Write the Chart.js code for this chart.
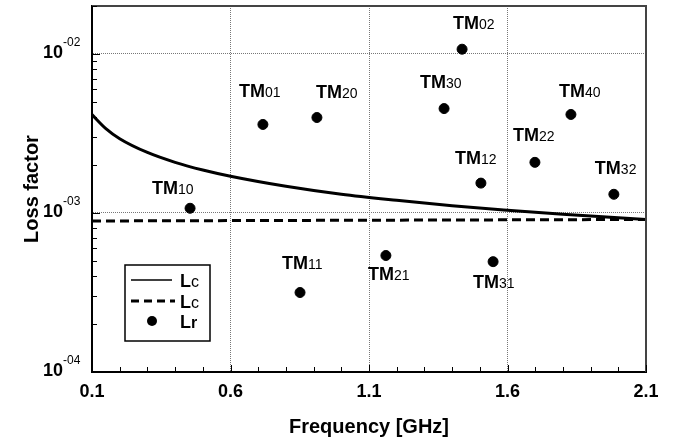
<!DOCTYPE html>
<html>
<head>
<meta charset="utf-8">
<script src="https://cdn.jsdelivr.net/npm/chart.js@4.4.0/dist/chart.umd.min.js"></script>
<style>
  html, body { margin: 0; padding: 0; background: #fff; }
</style>
</head>
<body>
<canvas id="chart" width="686" height="442"></canvas>
<script>
// Resonant modes (Lr)
const modeNames = ["TM10", "TM01", "TM20", "TM11", "TM21", "TM30", "TM02", "TM12", "TM31", "TM22", "TM40", "TM32"];
const modeFreq = [0.454, 0.717, 0.912, 0.851, 1.161, 1.371, 1.436, 1.504, 1.548, 1.699, 1.829, 1.984];
const modeLoss = [1.07e-3, 3.6e-3, 3.98e-3, 3.16e-4, 5.4e-4, 4.53e-3, 1.07e-2, 1.54e-3, 4.94e-4, 2.08e-3, 4.16e-3, 1.31e-3];

// Lc, solid curve
const lcFreq = [0.1, 0.15, 0.2, 0.3, 0.4, 0.5, 0.6, 0.8, 1.0, 1.2, 1.4, 1.6, 1.8, 2.1];
const lcLoss = [4.15e-3, 3.39e-3, 2.93e-3, 2.4e-3, 2.08e-3, 1.86e-3, 1.7e-3, 1.47e-3, 1.31e-3, 1.2e-3, 1.11e-3, 1.04e-3, 0.98e-3, 0.91e-3];

// Lc, dashed line
const lcDashFreq = [0.1, 2.1];
const lcDashLoss = [8.9e-4, 9.1e-4];

// Axis ticks
const xTickLabels = ["0.1", "0.6", "1.1", "1.6", "2.1"];
const yMajorTicks = [1e-4, 1e-3, 1e-2];
const yExpLabels = ["-04", "-03", "-02"];

// label offsets from each dot (px): left edge, baseline
const labelOffsets = {
  TM10: [-38, -14], TM01: [-24, -27], TM20: [-1, -20], TM11: [-18, -24],
  TM21: [-18, 24], TM30: [-24, -21], TM02: [-9, -20], TM12: [-26, -19],
  TM31: [-20, 26], TM22: [-22, -21], TM40: [-12, -17], TM32: [-19, -20]
};

const FONT = "'Liberation Sans', Arial, sans-serif";

const toXY = (xs, ys) => xs.map((v, i) => ({ x: v, y: ys[i] }));

const decor = {
  id: "decor",
  afterDraw(chart) {
    const { ctx, chartArea: a } = chart;
    const xs = chart.scales.x, ys = chart.scales.y;
    ctx.save();

    // top & right frame
    ctx.strokeStyle = "#444";
    ctx.lineWidth = 2;
    ctx.beginPath();
    ctx.moveTo(a.left, a.top);
    ctx.lineTo(a.right, a.top);
    ctx.lineTo(a.right, a.bottom);
    ctx.stroke();

    // inward tick marks
    ctx.strokeStyle = "#000";
    ctx.lineWidth = 1;
    ctx.beginPath();
    xs.ticks.forEach((t) => {
      const n = Math.round(t.value * 10);
      const px = Math.round(xs.getPixelForValue(t.value)) + 0.5;
      const len = (n - 1) % 5 === 0 ? 7 : 5;
      ctx.moveTo(px, a.bottom);
      ctx.lineTo(px, a.bottom - len);
    });
    ys.ticks.forEach((t) => {
      const py = Math.round(ys.getPixelForValue(t.value)) + 0.5;
      const major = yMajorTicks.some((m) => Math.abs(m - t.value) / m < 1e-6);
      ctx.moveTo(a.left, py);
      ctx.lineTo(a.left + (major ? 8 : 5), py);
    });
    ctx.stroke();

    // y tick labels 10^-0n
    yMajorTicks.forEach((v, i) => {
      const py = ys.getPixelForValue(v);
      ctx.fillStyle = "#000";
      ctx.textBaseline = "alphabetic";
      ctx.textAlign = "right";
      ctx.font = "bold 18px " + FONT;
      ctx.fillText("10", 63, py + 4);
      ctx.textAlign = "left";
      ctx.font = "12px " + FONT;
      ctx.fillText(yExpLabels[i], 63, py - 8);
    });

    // mode labels
    ctx.textAlign = "left";
    ctx.textBaseline = "alphabetic";
    modeNames.forEach((name, i) => {
      const px = xs.getPixelForValue(modeFreq[i]);
      const py = ys.getPixelForValue(modeLoss[i]);
      const [dx, dy] = labelOffsets[name];
      ctx.font = "bold 18px " + FONT;
      const main = name.slice(0, 2);
      ctx.fillText(main, px + dx, py + dy);
      const w = ctx.measureText(main).width;
      ctx.font = "14px " + FONT;
      ctx.fillText(name.slice(2), px + dx + w, py + dy);
    });

    // legend box
    const lx = 125, ly = 265;
    ctx.fillStyle = "#fff";
    ctx.fillRect(lx, ly, 85, 76);
    ctx.strokeStyle = "#000";
    ctx.lineWidth = 1.5;
    ctx.strokeRect(lx, ly, 85, 76);

    ctx.beginPath();
    ctx.lineWidth = 1.5;
    ctx.moveTo(lx + 6, ly + 15);
    ctx.lineTo(lx + 47, ly + 15);
    ctx.stroke();

    ctx.beginPath();
    ctx.lineWidth = 3;
    ctx.setLineDash([8, 5]);
    ctx.moveTo(lx + 6, ly + 36);
    ctx.lineTo(lx + 50, ly + 36);
    ctx.stroke();
    ctx.setLineDash([]);

    ctx.fillStyle = "#000";
    ctx.beginPath();
    ctx.arc(lx + 27, ly + 56, 5, 0, Math.PI * 2);
    ctx.fill();

    const legendText = [["L", "c", 22], ["L", "c", 43], ["L", "r", 63]];
    legendText.forEach(([a1, b1, by]) => {
      ctx.font = "bold 18px " + FONT;
      ctx.fillText(a1, lx + 55, ly + by);
      const w = ctx.measureText(a1).width;
      ctx.font = (b1 === "r" ? "bold " : "") + "16px " + FONT;
      ctx.fillText(b1, lx + 55 + w, ly + by);
    });

    ctx.restore();
  }
};

new Chart(document.getElementById("chart"), {
  type: "scatter",
  data: {
    datasets: [
      {
        label: "Lc",
        type: "line",
        data: toXY(lcFreq, lcLoss),
        borderColor: "#000",
        borderWidth: 3,
        pointRadius: 0,
        cubicInterpolationMode: "monotone",
        fill: false
      },
      {
        label: "Lc",
        type: "line",
        data: toXY(lcDashFreq, lcDashLoss),
        borderColor: "#000",
        borderWidth: 3,
        borderDash: [9, 5],
        pointRadius: 0,
        fill: false
      },
      {
        label: "Lr",
        data: toXY(modeFreq, modeLoss),
        backgroundColor: "#000",
        borderColor: "#000",
        pointRadius: 5,
        pointHoverRadius: 5
      }
    ]
  },
  options: {
    responsive: false,
    animation: false,
    devicePixelRatio: 1,
    layout: { padding: { top: 4, right: 40, left: 0, bottom: 0 } },
    plugins: { legend: { display: false }, tooltip: { enabled: false } },
    scales: {
      x: {
        type: "linear",
        min: 0.1,
        max: 2.1,
        afterFit: (s) => { s.height = 70; },
        ticks: {
          stepSize: 0.1,
          autoSkip: false,
          maxRotation: 0,
          padding: 9,
          color: "#000",
          font: { family: FONT, size: 18, weight: "bold" },
          callback: (v) => {
            const n = Math.round(v * 10);
            return (n - 1) % 5 === 0 ? xTickLabels[(n - 1) / 5] : "";
          }
        },
        grid: {
          drawTicks: false,
          lineWidth: 1,
          color: (c) => {
            const n = Math.round(c.tick.value * 10);
            return n === 6 || n === 11 || n === 16 ? "#777" : "rgba(0,0,0,0)";
          }
        },
        border: { display: true, color: "#000", width: 2, dash: [1, 1] },
        title: {
          display: true,
          text: "Frequency [GHz]",
          color: "#000",
          font: { family: FONT, size: 20, weight: "bold" },
          padding: { top: 0, bottom: 3 }
        }
      },
      y: {
        type: "logarithmic",
        min: 1e-4,
        max: 2e-2,
        afterFit: (s) => { s.width = 92; },
        afterBuildTicks: (s) => {
          const t = [];
          yMajorTicks.forEach((d) => {
            for (let m = 1; m <= 9; m++) {
              const v = m * d;
              if (v <= 2e-2 + 1e-12) t.push({ value: v });
            }
          });
          t.push({ value: 2e-2 });
          s.ticks = t;
        },
        ticks: { display: false },
        grid: {
          drawTicks: false,
          lineWidth: 1,
          color: (c) => {
            const v = c.tick.value;
            return Math.abs(v - 1e-3) < 1e-9 || Math.abs(v - 1e-2) < 1e-8 ? "#777" : "rgba(0,0,0,0)";
          }
        },
        border: { display: true, color: "#000", width: 2, dash: [1, 1] },
        title: {
          display: true,
          text: "Loss factor",
          color: "#000",
          font: { family: FONT, size: 20, weight: "bold" },
          padding: { top: 20, bottom: 0 }
        }
      }
    }
  },
  plugins: [decor]
});
</script>
</body>
</html>
